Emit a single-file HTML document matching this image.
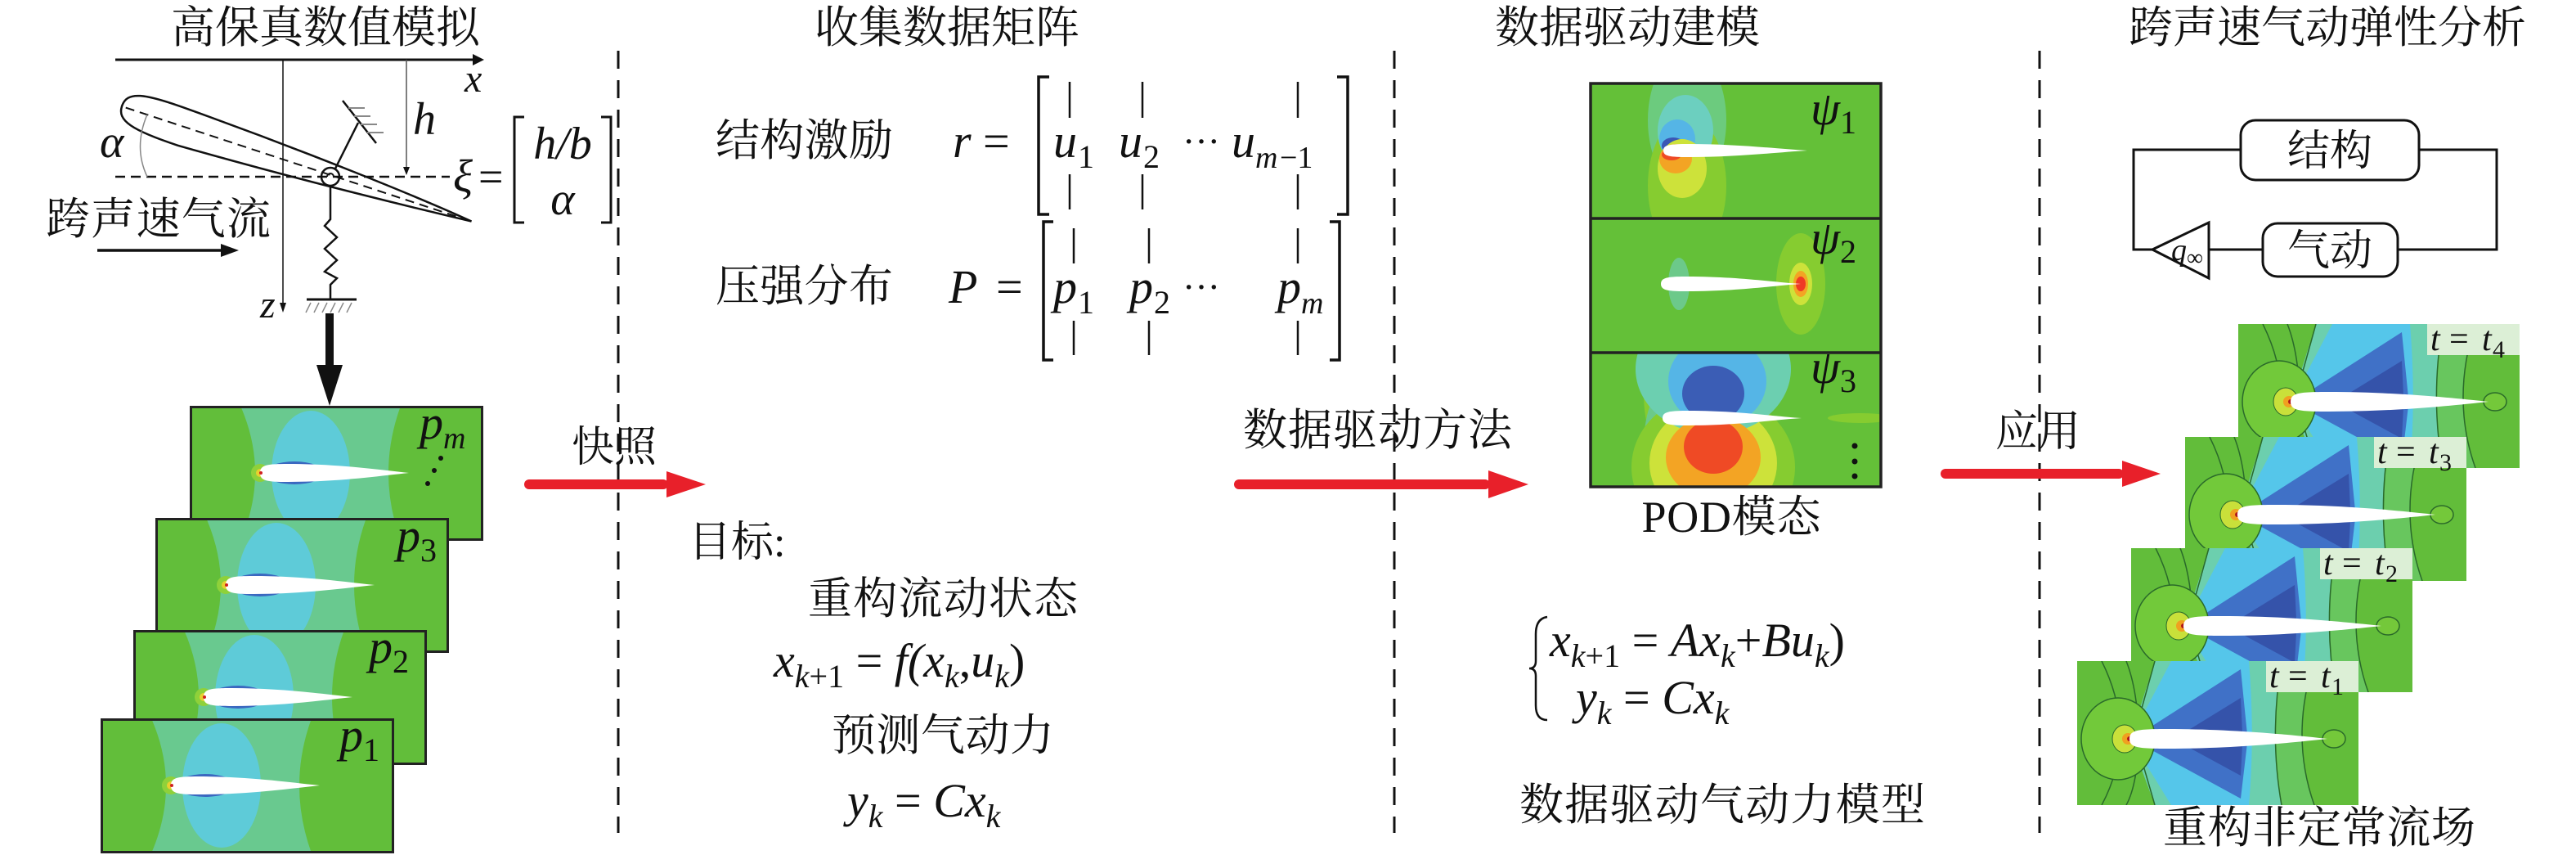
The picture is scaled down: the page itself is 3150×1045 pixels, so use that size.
<!DOCTYPE html>
<html><head><meta charset="utf-8"><style>
html,body{margin:0;padding:0;background:#fff;}
svg{display:block;}
.cn{font-family:"Liberation Serif","Noto Serif CJK SC",serif;fill:#111;}
.m{font-family:"Liberation Serif",serif;font-style:italic;fill:#111;}
.r{font-family:"Liberation Serif",serif;fill:#111;}
</style></head><body>
<svg width="3150" height="1045" viewBox="0 0 3150 1045" xmlns="http://www.w3.org/2000/svg">
<defs>
<symbol id="pf" viewBox="0 0 359 165">
<rect width="359" height="165" fill="#62be3a"/>
<path d="M62,0 Q98,82 62,165 L258,165 Q228,82 258,0Z" fill="#69c98f"/>
<ellipse cx="148" cy="82" rx="48" ry="76" fill="#5ecbd8"/>
<ellipse cx="128" cy="82" rx="36" ry="14" fill="#3b68c0"/>
<circle cx="86" cy="82" r="11" fill="#8fd13a"/>
<circle cx="86" cy="82" r="5" fill="#e8d030"/>
<path d="M86,82 C86,72 95,71 120,71 C180,71 230,78 268,82 C230,86 180,93 120,93 C95,93 86,92 86,82Z" fill="#fff"/>
<circle cx="87" cy="82" r="2" fill="#d02020"/>
<rect x="1.5" y="1.5" width="356" height="162" fill="none" stroke="#222" stroke-width="3"/>
</symbol>
<symbol id="fl" viewBox="0 0 344 176">
<rect width="344" height="176" fill="#62bd3a"/>
<path d="M95,0 L290,0 C270,60 270,120 290,176 L95,176Z" fill="#68c65e"/>
<path d="M65,95 L95,0 L250,0 C240,60 240,120 250,176 L95,176Z" fill="#6ccfae"/>
<path d="M65,95 L115,0 L210,0 C215,60 215,120 210,176 L115,176Z" fill="#55c6ea"/>
<path d="M75,90 L200,10 L208,90Z" fill="#4071c7"/>
<path d="M75,100 L200,168 L208,100Z" fill="#4071c7"/>
<path d="M130,88 L200,45 L202,88Z" fill="#3553aa"/>
<path d="M130,102 L200,140 L202,102Z" fill="#3553aa"/>
<g fill="none" stroke="#2a6a2a" stroke-width="1.5">
<path d="M30,0 C60,60 60,120 30,176"/>
<path d="M60,0 C80,50 80,140 60,176"/>
<path d="M95,0 L70,90 L95,176"/>
<path d="M250,0 C240,60 240,120 250,176"/>
<path d="M290,0 C270,60 270,120 290,176"/>
</g>
<ellipse cx="50" cy="95" rx="45" ry="50" fill="#72c93a" stroke="#2a6a2a" stroke-width="1.5"/>
<ellipse cx="58" cy="95" rx="15" ry="17" fill="#c9e03a" stroke="#2a6a2a" stroke-width="1"/>
<circle cx="62" cy="95" r="7" fill="#f0a020"/>
<circle cx="64" cy="95" r="3" fill="#b01818"/>
<ellipse cx="314" cy="95" rx="14" ry="11" fill="#74c83a" stroke="#2a6a2a" stroke-width="1.5"/>
<path d="M64,95 C64,84 75,83 110,83 C190,83 260,90 306,95 C260,100 190,107 110,107 C75,107 64,106 64,95Z" fill="#fff"/>
<rect x="231" y="0" width="113" height="38" fill="#dcefd6"/>
</symbol>
</defs>

<text class="cn" x="398" y="52" font-size="54" text-anchor="middle">高保真数值模拟</text>
<text class="cn" x="1158" y="52" font-size="54" text-anchor="middle">收集数据矩阵</text>
<text class="cn" x="1990" y="52" font-size="54" text-anchor="middle">数据驱动建模</text>
<text class="cn" x="2846" y="52" font-size="54" text-anchor="middle">跨声速气动弹性分析</text>

<g stroke="#111" stroke-width="3" stroke-dasharray="22 14">
<line x1="756" y1="62" x2="756" y2="1018"/>
<line x1="1705" y1="62" x2="1705" y2="1018"/>
<line x1="2494" y1="62" x2="2494" y2="1018"/>
</g>

<g stroke="#111" fill="none">
<line x1="141" y1="73" x2="580" y2="73" stroke-width="3"/>
<polygon points="578,66 592,73 578,80" fill="#111" stroke="none"/>
<line x1="346" y1="73" x2="346" y2="372" stroke-width="1.5"/>
<polygon points="342,370 346,382 350,370" fill="#111" stroke="none"/>
<line x1="497" y1="73" x2="497" y2="206" stroke-width="1.5" stroke="#555"/>
<polygon points="493,204 497,214 501,204" fill="#111" stroke="none"/>
<line x1="141" y1="216" x2="550" y2="216" stroke-width="2.5" stroke-dasharray="12 7"/>
<g transform="translate(149,130) rotate(18.2)">
<path d="M0,0 C0,-20 20,-24 80,-22 C230,-18 380,-8 450,0 C380,6 230,18 80,24 C20,24 0,18 0,0Z" stroke-width="2.5"/>
<line x1="5" y1="0" x2="445" y2="0" stroke-width="2" stroke-dasharray="11 7"/>
</g>
<path d="M180,140 Q163,180 180,216" stroke="#888" stroke-width="1.5"/>
<circle cx="404" cy="216" r="11" stroke-width="2.5"/>
<path d="M404,216 m-4,0 a4,4 0 1,1 8,0" stroke-width="2"/>
<line x1="410" y1="206" x2="438" y2="150" stroke-width="2.5"/>
<line x1="419" y1="123" x2="460" y2="175" stroke-width="2.5"/>
<g stroke="#888" stroke-width="2">
<line x1="426" y1="132" x2="446" y2="132"/><line x1="433" y1="142" x2="453" y2="142"/>
<line x1="441" y1="152" x2="461" y2="152"/><line x1="449" y1="162" x2="469" y2="162"/>
</g>
<polyline points="404,228 404,268 397,276 412,290 397,304 412,318 397,332 412,340 404,348 404,365" stroke-width="2.5"/>
<line x1="375" y1="366" x2="436" y2="366" stroke-width="3"/>
<g stroke="#888" stroke-width="1.5">
<line x1="380" y1="370" x2="374" y2="382"/><line x1="390" y1="370" x2="384" y2="382"/>
<line x1="400" y1="370" x2="394" y2="382"/><line x1="410" y1="370" x2="404" y2="382"/>
<line x1="420" y1="370" x2="414" y2="382"/><line x1="430" y1="370" x2="424" y2="382"/>
</g>
<line x1="119" y1="306" x2="275" y2="306" stroke-width="3.5"/>
<polygon points="270,298 292,306 270,314" fill="#111" stroke="none"/>
<rect x="398" y="383" width="10" height="65" fill="#111" stroke="none"/>
<polygon points="387,446 419,446 403,496" fill="#111" stroke="none"/>
</g>
<text class="m" x="568" y="112" font-size="48">x</text>
<text class="m" x="318" y="388" font-size="48">z</text>
<text class="m" x="505" y="164" font-size="56">h</text>
<text class="m" x="122" y="192" font-size="56">α</text>
<text class="m" x="554" y="234" font-size="56">ξ</text>
<text class="r" x="585" y="234" font-size="54">=</text>
<path d="M641,143 L629,143 L629,272 L641,272 M735,143 L747,143 L747,272 L735,272" stroke="#111" stroke-width="3" fill="none"/>
<text class="m" x="688" y="194" font-size="56" text-anchor="middle">h/b</text>
<text class="m" x="688" y="262" font-size="56" text-anchor="middle">α</text>
<text class="cn" x="56" y="286" font-size="54" textLength="275" lengthAdjust="spacing">跨声速气流</text>

<use href="#pf" x="232" y="496" width="359" height="165"/>
<text class="m" x="513" y="536" font-size="58">p</text><text class="m" x="542" y="548" font-size="38">m</text>
<g fill="#111"><circle cx="539" cy="560" r="3"/><circle cx="531" cy="575" r="3"/><circle cx="523" cy="591" r="3"/></g>
<use href="#pf" x="190" y="633" width="359" height="165"/>
<text class="m" x="485" y="674" font-size="58">p</text><text class="r" x="514" y="686" font-size="40">3</text>
<use href="#pf" x="163" y="770" width="359" height="165"/>
<text class="m" x="451" y="810" font-size="58">p</text><text class="r" x="480" y="822" font-size="40">2</text>
<use href="#pf" x="123" y="878" width="359" height="165"/>
<text class="m" x="415" y="918" font-size="58">p</text><text class="r" x="444" y="930" font-size="40">1</text>

<g fill="#e8202a">
<rect x="641" y="586" width="176" height="12" rx="6"/><polygon points="815,576 863,592 815,608"/>
<rect x="1509" y="586" width="313" height="12" rx="6"/><polygon points="1820,575 1869,592 1820,609"/>
<rect x="2373" y="573" width="224" height="12" rx="6"/><polygon points="2595,563 2642,579 2595,595"/>
</g>
<text class="cn" x="699" y="564" font-size="52">快照</text>
<text class="cn" x="1520" y="544" font-size="54" textLength="329" lengthAdjust="spacing">数据驱动方法</text>
<text class="cn" x="2440" y="545" font-size="52">应用</text>

<text class="cn" x="875" y="190" font-size="54" textLength="217" lengthAdjust="spacing">结构激励</text>
<text class="cn" x="875" y="368" font-size="54" textLength="217" lengthAdjust="spacing">压强分布</text>
<text class="m" x="1165" y="192" font-size="58">r</text>
<text class="r" x="1202" y="192" font-size="58">=</text>
<text class="m" x="1160" y="370" font-size="58">P</text>
<text class="r" x="1218" y="370" font-size="58">=</text>
<path d="M1283,94 L1270,94 L1270,262 L1283,262 M1635,94 L1648,94 L1648,262 L1635,262" stroke="#111" stroke-width="3.5" fill="none"/>
<path d="M1288,271 L1276,271 L1276,440 L1288,440 M1626,271 L1638,271 L1638,440 L1626,440" stroke="#111" stroke-width="3.5" fill="none"/>
<g stroke="#111" stroke-width="2.5">
<line x1="1308" y1="100" x2="1308" y2="144"/><line x1="1397" y1="100" x2="1397" y2="144"/><line x1="1587" y1="100" x2="1587" y2="144"/>
<line x1="1308" y1="213" x2="1308" y2="256"/><line x1="1397" y1="213" x2="1397" y2="256"/><line x1="1587" y1="213" x2="1587" y2="256"/>
<line x1="1313" y1="279" x2="1313" y2="322"/><line x1="1405" y1="279" x2="1405" y2="322"/><line x1="1587" y1="279" x2="1587" y2="322"/>
<line x1="1313" y1="392" x2="1313" y2="434"/><line x1="1405" y1="392" x2="1405" y2="434"/><line x1="1587" y1="392" x2="1587" y2="434"/>
</g>
<text class="m" x="1288" y="192" font-size="58">u</text><text class="r" x="1318" y="205" font-size="40">1</text>
<text class="m" x="1368" y="192" font-size="58">u</text><text class="r" x="1398" y="205" font-size="40">2</text>
<text class="r" x="1446" y="188" font-size="46">···</text>
<text class="m" x="1506" y="192" font-size="58">u</text><text class="m" x="1535" y="205" font-size="38">m</text><text class="r" x="1565" y="205" font-size="38">−1</text>
<text class="m" x="1288" y="370" font-size="58">p</text><text class="r" x="1318" y="383" font-size="40">1</text>
<text class="m" x="1381" y="370" font-size="58">p</text><text class="r" x="1411" y="383" font-size="40">2</text>
<text class="r" x="1446" y="366" font-size="46">···</text>
<text class="m" x="1562" y="370" font-size="58">p</text><text class="m" x="1591" y="383" font-size="38">m</text>

<text class="cn" x="842" y="680" font-size="52">目标:</text>
<text class="cn" x="1153" y="750" font-size="54" text-anchor="middle" textLength="330" lengthAdjust="spacing">重构流动状态</text>
<text class="m" x="946" y="827" font-size="58">x<tspan font-size="40" dy="13">k</tspan><tspan font-style="normal" font-size="40">+1</tspan><tspan dy="-13" font-style="normal"> = </tspan>f(x<tspan font-size="40" dy="13">k</tspan><tspan dy="-13" font-style="normal">,</tspan>u<tspan font-size="40" dy="13">k</tspan><tspan dy="-13" font-style="normal">)</tspan></text>
<text class="cn" x="1153" y="917" font-size="54" text-anchor="middle" textLength="272" lengthAdjust="spacing">预测气动力</text>
<text class="m" x="1036" y="998" font-size="58">y<tspan font-size="40" dy="13">k</tspan><tspan dy="-13" font-style="normal"> = </tspan>Cx<tspan font-size="40" dy="13">k</tspan></text>

<svg x="1945" y="102" width="355" height="165" viewBox="0 0 355 165">
<rect width="355" height="165" fill="#64c038"/>
<ellipse cx="118" cy="45" rx="48" ry="85" fill="#6ccb7e"/>
<ellipse cx="118" cy="125" rx="48" ry="85" fill="#86cc30"/>
<ellipse cx="116" cy="58" rx="34" ry="44" fill="#6ccfbf"/>
<ellipse cx="106" cy="68" rx="22" ry="24" fill="#55b5e6"/>
<ellipse cx="101" cy="76" rx="14" ry="10" fill="#3a56b5"/>
<ellipse cx="112" cy="104" rx="30" ry="36" fill="#cde23a"/>
<ellipse cx="104" cy="92" rx="20" ry="18" fill="#f3a424"/>
<ellipse cx="99" cy="87" rx="12" ry="7" fill="#ef4a25"/>
<path d="M89,82 C89,75 97,74 120,74 C180,74 230,80 265,82 C230,84 180,90 120,90 C97,90 89,89 89,82Z" fill="#fff"/>
</svg>
<svg x="1945" y="267" width="355" height="164" viewBox="0 0 355 164">
<rect width="355" height="164" fill="#64c038"/>
<ellipse cx="108" cy="80" rx="13" ry="32" fill="#6cc98a"/>
<ellipse cx="257" cy="80" rx="30" ry="62" fill="#86cc30"/>
<ellipse cx="257" cy="80" rx="14" ry="26" fill="#cde23a"/>
<ellipse cx="257" cy="80" rx="9" ry="16" fill="#f3a424"/>
<ellipse cx="257" cy="80" rx="6" ry="9" fill="#ef3a25"/>
<path d="M86,80 C86,72 95,71 118,71 C180,71 225,78 257,80 C225,82 180,89 118,89 C95,89 86,88 86,80Z" fill="#fff"/>
</svg>
<svg x="1945" y="431" width="355" height="164" viewBox="0 0 355 164">
<rect width="355" height="164" fill="#64c038"/>
<ellipse cx="90" cy="50" rx="25" ry="70" fill="#86cc30"/>
<ellipse cx="90" cy="115" rx="25" ry="70" fill="#6cc98a"/>
<ellipse cx="150" cy="140" rx="100" ry="90" fill="#86cc30"/>
<ellipse cx="150" cy="135" rx="78" ry="72" fill="#cde23a"/>
<ellipse cx="150" cy="20" rx="95" ry="80" fill="#6ccfb0"/>
<ellipse cx="155" cy="35" rx="60" ry="55" fill="#55b5e6"/>
<ellipse cx="150" cy="50" rx="38" ry="34" fill="#3b5db5"/>
<ellipse cx="150" cy="128" rx="58" ry="50" fill="#f3a424"/>
<ellipse cx="150" cy="115" rx="36" ry="33" fill="#ef4a25"/>
<ellipse cx="330" cy="80" rx="40" ry="6" fill="#86cc30"/>
<path d="M88,80 C88,72 97,71 120,71 C180,71 225,78 258,80 C225,82 180,89 120,89 C97,89 88,88 88,80Z" fill="#fff"/>
<g fill="#111"><circle cx="323" cy="114" r="3.5"/><circle cx="323" cy="133" r="3.5"/><circle cx="323" cy="151" r="3.5"/></g>
</svg>
<rect x="1945" y="102" width="355" height="493" fill="none" stroke="#222" stroke-width="3.5"/>
<line x1="1945" y1="267" x2="2300" y2="267" stroke="#222" stroke-width="3.5"/>
<line x1="1945" y1="431" x2="2300" y2="431" stroke="#222" stroke-width="3.5"/>
<text class="m" x="2214" y="152" font-size="58">ψ</text><text class="r" x="2250" y="163" font-size="40">1</text>
<text class="m" x="2214" y="310" font-size="58">ψ</text><text class="r" x="2250" y="321" font-size="40">2</text>
<text class="m" x="2214" y="468" font-size="58">ψ</text><text class="r" x="2250" y="479" font-size="40">3</text>
<text class="cn" x="2117" y="650" font-size="54" text-anchor="middle" textLength="219" lengthAdjust="spacing">POD模态</text>

<path d="M1892,754 Q1878,756 1878,775 L1878,808 Q1878,817 1870,817 Q1878,817 1878,826 L1878,862 Q1878,880 1892,880" stroke="#111" stroke-width="2.5" fill="none"/>
<text class="m" x="1895" y="802" font-size="58">x<tspan font-size="40" dy="13">k</tspan><tspan font-style="normal" font-size="40">+1</tspan><tspan dy="-13" font-style="normal"> = </tspan>Ax<tspan font-size="40" dy="13">k</tspan><tspan dy="-13" font-style="normal">+</tspan>Bu<tspan font-size="40" dy="13">k</tspan><tspan dy="-13" font-style="normal">)</tspan></text>
<text class="m" x="1927" y="872" font-size="58">y<tspan font-size="40" dy="13">k</tspan><tspan dy="-13" font-style="normal"> = </tspan>Cx<tspan font-size="40" dy="13">k</tspan></text>
<text class="cn" x="1858" y="1002" font-size="54" textLength="496" lengthAdjust="spacing">数据驱动气动力模型</text>

<g stroke="#111" stroke-width="3" fill="none">
<polyline points="2740,183 2609,183 2609,305 2632,305"/>
<polyline points="2958,183 3053,183 3053,305 2932,305"/>
<line x1="2701" y1="305" x2="2767" y2="305"/>
<rect x="2740" y="147" width="218" height="73" rx="18" fill="#fff"/>
<rect x="2767" y="273" width="165" height="65" rx="18" fill="#fff"/>
<polygon points="2632,305 2701,272 2701,340" fill="#fff"/>
</g>
<text class="cn" x="2849" y="202" font-size="52" text-anchor="middle">结构</text>
<text class="cn" x="2849" y="324" font-size="52" text-anchor="middle">气动</text>
<text class="m" x="2655" y="318" font-size="38">q</text><text class="r" x="2674" y="324" font-size="28">∞</text>

<use href="#fl" x="2737" y="396" width="344" height="176"/>
<text class="m" x="2972" y="428" font-size="42">t</text><text class="r" x="2995" y="428" font-size="42">=</text><text class="m" x="3035" y="428" font-size="42">t</text><text class="r" x="3048" y="437" font-size="30">4</text>
<use href="#fl" x="2672" y="534" width="344" height="176"/>
<text class="m" x="2907" y="566" font-size="42">t</text><text class="r" x="2930" y="566" font-size="42">=</text><text class="m" x="2970" y="566" font-size="42">t</text><text class="r" x="2983" y="575" font-size="30">3</text>
<use href="#fl" x="2606" y="670" width="344" height="176"/>
<text class="m" x="2841" y="702" font-size="42">t</text><text class="r" x="2864" y="702" font-size="42">=</text><text class="m" x="2904" y="702" font-size="42">t</text><text class="r" x="2917" y="711" font-size="30">2</text>
<use href="#fl" x="2540" y="808" width="344" height="176"/>
<text class="m" x="2775" y="840" font-size="42">t</text><text class="r" x="2798" y="840" font-size="42">=</text><text class="m" x="2838" y="840" font-size="42">t</text><text class="r" x="2851" y="849" font-size="30">1</text>
<text class="cn" x="2645" y="1030" font-size="54" textLength="382" lengthAdjust="spacing">重构非定常流场</text>
</svg>
</body></html>
